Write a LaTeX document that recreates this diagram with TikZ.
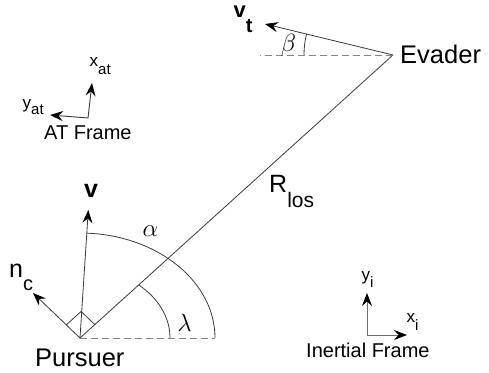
\documentclass[tikz,border=0pt]{standalone}
\usepackage{fontspec}
\setmainfont{Liberation Sans}
\usetikzlibrary{arrows.meta,calc}
\definecolor{linec}{HTML}{3A3A3A}
\definecolor{dashc}{HTML}{858585}
\definecolor{framec}{HTML}{6E6E6E}
\newcommand{\fs}[1]{\fontsize{#1}{#1}\selectfont}
\begin{document}
\begin{tikzpicture}[x=1pt,y=1pt,
  thinline/.style={draw=linec,line width=0.8pt},
  dashline/.style={draw=dashc,line width=0.9pt,dash pattern=on 7pt off 4pt},
  arr/.style={thinline,-{Stealth[length=13pt,width=10pt,inset=4.5pt,color=black,fill=black]}},
  farr/.style={draw=framec,line width=0.9pt,-{Stealth[length=13pt,width=10pt,inset=4.5pt,color=black,fill=black]}},
  lbl/.style={inner sep=0pt,anchor=base west,text=black},
  greek/.style={inner sep=0pt,anchor=center,text=black}]
\useasboundingbox (0,0) rectangle (489,372);
% key points
\coordinate (P) at (80,34);
\coordinate (E) at (393,317);
\coordinate (dashend) at (215,34);
\coordinate (Edashend) at (260,317);
\coordinate (vtip) at (88.3,162);
\coordinate (nctip) at (33,79);
\coordinate (vttip) at (265,348);
\coordinate (ATo) at (88,254);
\coordinate (ATx) at (92,289);
\coordinate (ATy) at (50,257);
\coordinate (INo) at (367,37);
\coordinate (INx) at (407,37);
\coordinate (INy) at (367,79);
\coordinate (lamS) at (170,34);
\coordinate (betS) at (304,317);
% line of sight and references
\draw[thinline] (P) -- (E);
\draw[dashline] (P) -- (dashend);
\draw[dashline] (E) -- (Edashend);
% arcs
\draw[thinline] (dashend) arc[start angle=0,end angle=87.2,x radius=135,y radius=105];
\draw[thinline] (lamS) arc[start angle=0,end angle=49.3,x radius=90,y radius=70];
\draw[thinline] (betS) arc[start angle=180,end angle=166.4,radius=89];
% vectors
\draw[arr] (P) -- (vtip);
\draw[arr] (P) -- (nctip);
\draw[arr] (E) -- (vttip);
% right angle marker
\coordinate (ra) at ($(P)!19pt!(nctip)$);
\coordinate (rb) at ($(P)!20pt!(E)$);
\coordinate (rc) at ($(ra)+(rb)-(P)$);
\draw[thinline] (ra) -- (rc) -- (rb);
% frames
\draw[farr,draw=linec] (ATo) -- (ATx);
\draw[farr,draw=linec] (ATo) -- (ATy);
\draw[farr] (INo) -- (INy);
\draw[farr] (INo) -- (INx);
% labels
\node[lbl] (pursuer) at (35,5.3) {\fs{25.5}Pursuer};
\node[lbl] (evader) at (400,308) {\fs{25.5}Evader};
\node[lbl] (rlos) at (269,179) {\fs{25}R\raisebox{-15pt}{\fs{21}los}};
\node[lbl] (vlbl) at (84,174) {\fs{25}\bfseries v};
\node[lbl] (vtlbl) at (233.5,354) {\fs{22}\bfseries v\raisebox{-15pt}{\fs{20}t}};
\node[lbl] (nclbl) at (9,95) {\fs{25}n\raisebox{-13pt}{\fs{20}c}};
\node[lbl] (xat) at (89.5,305) {\fs{17}x\raisebox{-8pt}{\fs{15}at}};
\node[lbl] (yat) at (22.5,263.5) {\fs{17}y\raisebox{-6.5pt}{\fs{15}at}};
\node[lbl] (atframe) at (44,232) {\fs{20}AT Frame};
\node[lbl] (yi) at (361.5,92) {\fs{17}y\raisebox{-7pt}{\fs{15}i}};
\node[lbl] (xi) at (406.5,50) {\fs{17}x\raisebox{-8pt}{\fs{15}i}};
\node[lbl] (inframe) at (306,15) {\fs{20}Inertial Frame};
\node[greek] (alpha) at (150.5,141) {\fs{24}$\alpha$};
\node[greek] (lambda) at (184.5,49.5) {\fs{25}$\lambda$};
\node[greek] (beta) at (288.5,327) {\fs{24}$\beta$};
\end{tikzpicture}
\end{document}
